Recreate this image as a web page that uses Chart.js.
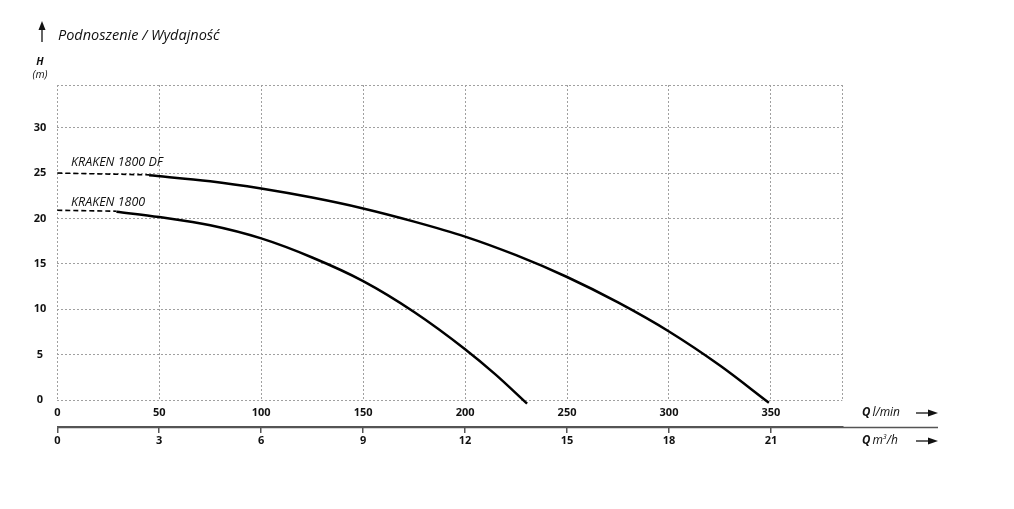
<!DOCTYPE html>
<html>
<head>
<meta charset="utf-8">
<script src="https://cdn.jsdelivr.net/npm/chart.js@4/dist/chart.umd.min.js"></script>
<style>
html,body{margin:0;padding:0;background:#fff;}
#wrap{width:1014px;height:509px;position:relative;}
</style>
</head>
<body>
<div id="wrap"><canvas id="c" width="1014" height="509"></canvas></div>
<script>
// ---- data ----
const dfDashedQ = [0, 45];
const dfDashedH = [25, 24.8];
const dfQ = [45, 75, 100, 125, 150, 175, 200, 225, 250, 275, 300, 325, 349];
const dfH = [24.75, 24.1, 23.3, 22.3, 21.1, 19.65, 18.0, 15.95, 13.55, 10.75, 7.55, 3.8, -0.3];

const k18DashedQ = [0, 29];
const k18DashedH = [20.9, 20.8];
const k18Q = [29, 50, 75, 100, 125, 150, 175, 200, 215, 230.4];
const k18H = [20.75, 20.15, 19.25, 17.8, 15.7, 13.1, 9.7, 5.6, 2.8, -0.4];

const seriesNames = ['KRAKEN 1800 DF', 'KRAKEN 1800'];
const qLpmTicks = [0, 50, 100, 150, 200, 250, 300, 350];
const qM3hTicks = [0, 3, 6, 9, 12, 15, 18, 21];
const hTicks = [0, 5, 10, 15, 20, 25, 30];
const qMax = 385;
const hMax = 34.7;

const pts = (xs, ys) => xs.map((x, i) => ({x: x, y: ys[i]}));

const FONT = "'Open Sans', 'Noto Sans', sans-serif";
const gridColor = '#a0a0a0';

const extras = {
  id: 'extras',
  afterDraw(chart) {
    const ctx = chart.ctx;
    const ca = chart.chartArea;
    const x2 = chart.scales.x2;
    ctx.save();
    // extend second axis line
    ctx.strokeStyle = '#555';
    ctx.lineWidth = 1.5;
    const ly = Math.round(x2.top) + 0.5;
    ctx.beginPath();
    ctx.moveTo(ca.left, ly);
    ctx.lineTo(938, ly);
    ctx.stroke();

    ctx.fillStyle = '#111';
    ctx.strokeStyle = '#111';
    // up arrow
    ctx.lineWidth = 1.3;
    ctx.beginPath(); ctx.moveTo(42, 42); ctx.lineTo(42, 28); ctx.stroke();
    ctx.beginPath(); ctx.moveTo(42, 21); ctx.lineTo(38.5, 30); ctx.lineTo(45.5, 30); ctx.closePath(); ctx.fill();

    ctx.textBaseline = 'alphabetic';
    ctx.textAlign = 'left';
    ctx.font = "italic 14.5px " + FONT;
    ctx.fillText('Podnoszenie / Wydajność', 58, 40);

    ctx.textAlign = 'center';
    ctx.font = "italic bold 10.5px " + FONT;
    ctx.fillText('H', 40, 65);
    ctx.font = "italic 10.5px " + FONT;
    ctx.fillText('(m)', 40, 78);

    // series labels
    ctx.textAlign = 'left';
    ctx.textBaseline = 'middle';
    ctx.font = "italic 12.5px " + FONT;
    ctx.fillText(seriesNames[0], 71, 162);
    ctx.fillText(seriesNames[1], 71, 202);

    // axis unit labels
    const unit = (y, txt, sup) => {
      ctx.textAlign = 'left';
      ctx.font = "italic bold 11.5px " + FONT;
      ctx.fillText('Q', 862, y);
      let w = ctx.measureText('Q').width + 2;
      ctx.font = "italic 12px " + FONT;
      ctx.fillText(txt, 862 + w, y);
      w += ctx.measureText(txt).width;
      if (sup) {
        ctx.font = "italic 7px " + FONT;
        ctx.fillText(sup.s, 862 + w, y - 4);
        w += ctx.measureText(sup.s).width;
        ctx.font = "italic 12px " + FONT;
        ctx.fillText(sup.rest, 862 + w, y);
      }
      // arrow
      ctx.lineWidth = 1.3;
      ctx.beginPath(); ctx.moveTo(916, y); ctx.lineTo(930, y); ctx.stroke();
      ctx.beginPath(); ctx.moveTo(938, y); ctx.lineTo(928, y - 3.5); ctx.lineTo(928, y + 3.5); ctx.closePath(); ctx.fill();
    };
    unit(413, 'l/min');
    unit(441, 'm', {s: '3', rest: '/h'});
    ctx.restore();
  }
};

const whiteBg = {
  id: 'whiteBg',
  beforeDraw(chart) {
    const ctx = chart.ctx;
    ctx.save(); ctx.fillStyle = '#fff'; ctx.fillRect(0, 0, chart.width, chart.height); ctx.restore();
  }
};

const curve = {borderColor: '#000', borderWidth: 2.5, pointRadius: 0, cubicInterpolationMode: 'monotone', clip: false, xAxisID: 'x', yAxisID: 'y'};
const dashed = {borderColor: '#000', borderWidth: 1.6, borderDash: [5, 3], pointRadius: 0, tension: 0, clip: false, xAxisID: 'x', yAxisID: 'y'};

new Chart(document.getElementById('c'), {
  type: 'line',
  data: {
    datasets: [
      Object.assign({label: seriesNames[0], data: pts(dfQ, dfH)}, curve),
      Object.assign({label: seriesNames[0] + ' (dashed)', data: pts(dfDashedQ, dfDashedH)}, dashed),
      Object.assign({label: seriesNames[1], data: pts(k18Q, k18H)}, curve),
      Object.assign({label: seriesNames[1] + ' (dashed)', data: pts(k18DashedQ, k18DashedH)}, dashed)
    ]
  },
  options: {
    responsive: false,
    animation: false,
    events: [],
    layout: {padding: {top: 85, right: 171.7, left: 12.3, bottom: 52}},
    plugins: {legend: {display: false}, tooltip: {enabled: false}, title: {display: false}},
    scales: {
      x: {
        type: 'linear', position: 'bottom', weight: 0,
        min: 0, max: qMax,
        afterBuildTicks: (s) => { s.ticks = qLpmTicks.map(v => ({value: v})).concat([{value: qMax}]); },
        afterFit: (s) => { s.height = 27; },
        grid: {color: gridColor, lineWidth: 1, drawTicks: false},
        border: {display: false, dash: [2, 2]},
        ticks: {
          padding: 6, color: '#111', maxRotation: 0, autoSkip: false,
          font: {family: FONT, weight: 'bold', size: 11},
          callback: (v) => qLpmTicks.includes(v) ? String(v) : ''
        }
      },
      x2: {
        type: 'linear', position: 'bottom', weight: 1,
        min: 0, max: qMax * 0.06,
        afterBuildTicks: (s) => { s.ticks = qM3hTicks.map(v => ({value: v})); },
        afterFit: (s) => { s.height = 30; },
        grid: {display: true, drawOnChartArea: false, drawTicks: true, tickLength: 6, color: '#555', tickColor: '#555', tickWidth: 1.5, lineWidth: 1.5, tickBorderDash: []},
        border: {display: true, color: '#555', width: 1.5, dash: []},
        ticks: {
          padding: 1.5, color: '#111', maxRotation: 0, autoSkip: false,
          font: {family: FONT, weight: 'bold', size: 11},
          callback: (v) => String(v)
        }
      },
      y: {
        type: 'linear', position: 'left',
        min: 0, max: hMax,
        afterBuildTicks: (s) => { s.ticks = hTicks.map(v => ({value: v})).concat([{value: hMax}]); },
        afterFit: (s) => { s.width = 45; },
        grid: {color: gridColor, lineWidth: 1, drawTicks: false},
        border: {display: false, dash: [2, 2]},
        ticks: {
          padding: 11, crossAlign: 'center', color: '#111',
          font: {family: FONT, weight: 'bold', size: 11},
          callback: (v) => hTicks.includes(v) ? String(v) : ''
        }
      }
    }
  },
  plugins: [whiteBg, extras]
});
</script>
</body>
</html>
